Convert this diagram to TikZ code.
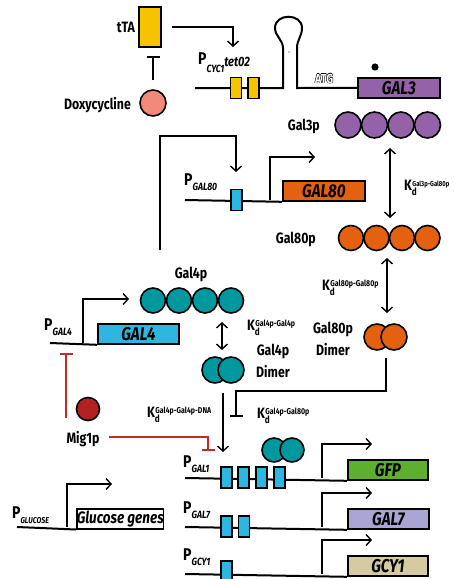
\documentclass[tikz,border=0pt]{standalone}
\usepackage{fontspec}
\setmainfont{Fira Sans}[FakeStretch=0.82]
\usetikzlibrary{arrows.meta}
\definecolor{cyellow}{HTML}{F5C400}
\definecolor{cdoxy}{HTML}{F28A7C}
\definecolor{cgalthree}{HTML}{9462A8}
\definecolor{cgaleighty}{HTML}{E4610F}
\definecolor{cteal}{HTML}{00989F}
\definecolor{csite}{HTML}{2DB7E0}
\definecolor{cmig}{HTML}{B32222}
\definecolor{cred}{HTML}{C8282A}
\definecolor{cgfp}{HTML}{5DAF2E}
\definecolor{cgalseven}{HTML}{A9A6D4}
\definecolor{cgcy}{HTML}{D6CBA0}
\newcommand{\promo}[2][10.5]{P\raisebox{-5pt}{\fontsize{#1}{#1}\selectfont\itshape #2}}
\newcommand{\kdlab}[2][8.5]{K\rlap{\raisebox{-5pt}{\fontsize{10}{10}\selectfont d}}\kern0.5pt\raisebox{4pt}{\fontsize{#1}{#1}\selectfont #2}}
\newcommand{\outlined}[1]{\makebox[0pt][l]{\kern-0.5pt\textcolor{black}{#1}}\makebox[0pt][l]{\kern0.5pt\textcolor{black}{#1}}\makebox[0pt][l]{\raisebox{0.5pt}{\textcolor{black}{#1}}}\makebox[0pt][l]{\raisebox{-0.5pt}{\textcolor{black}{#1}}}\textcolor{white}{#1}}
\begin{document}
\begin{tikzpicture}[x=1pt,y=-1pt,
  every node/.style={inner sep=0pt, font=\bfseries},
  lbl/.style={font=\bfseries\fontsize{15}{15}\selectfont},
  plab/.style={font=\bfseries\fontsize{17}{17}\selectfont, anchor=base west},
  dna/.style={line width=2pt},
  ln/.style={line width=1.8pt},
  arr/.style={ln, -{Straight Barb[length=5pt,width=11pt,line width=1.4pt]}},
  dbl/.style={ln, {Straight Barb[length=5pt,width=11pt,line width=1.4pt]}-{Straight Barb[length=5pt,width=11pt,line width=1.4pt]}},
  inh/.style={ln, -{Bar[width=13pt,line width=2.2pt]}},
  gene/.style={draw, line width=1.8pt, minimum height=20pt, font=\bfseries\itshape\fontsize{18.5}{18.5}\selectfont, anchor=north west},
  site/.style={draw, line width=1.5pt, minimum width=11pt, minimum height=21pt, fill=csite},
  prot/.style={draw, circle, line width=1.6pt, minimum size=26pt},
]
\useasboundingbox (0,0) rectangle (454,579);

% ---- tTA / doxycycline
\node[draw, line width=1.6pt, fill=cyellow, minimum width=22pt, minimum height=40pt] (tta) at (150,27) {};
\node[lbl, anchor=base east] (ttalab) at (135,32) {tTA};
\node[prot, fill=cdoxy] (doxy) at (153,103) {};
\node[lbl, anchor=base east] (doxylab) at (131,109) {Doxycycline};
\coordinate (tbar) at (153,56);
\draw[inh, shorten <=9pt] (doxy.north) -- (tbar);
\coordinate (cyctip) at (233,47);
\draw[arr, shorten <=10pt] (tta.east) -| (cyctip);

% ---- P_CYC1 tet02 / GAL3
\node[gene, fill=cgalthree, minimum width=82pt] (gal3) at (357,77) {GAL3};
\draw[dna] (195,88) -- (283,88) -- (283,48)
  .. controls (283,40) and (275,36) .. (275,28)
  .. controls (275,13) and (302,13) .. (302,28)
  .. controls (302,36) and (297,40) .. (297,48) -- (297,88) -- (gal3.west);
\node[site, fill=cyellow] (y1) at (236,88) {};
\node[site, fill=cyellow] (y2) at (253.5,88) {};
\fill (289,52) circle (0.7);
\fill (375,67) circle (3.6);
\node[font=\bfseries\fontsize{13}{13}\selectfont, anchor=base west] (atg) at (315,83) {\outlined{ATG}};
\node[plab] (pcyc) at (198,64) {P\raisebox{-8pt}{\fontsize{10.5}{10.5}\selectfont\itshape CYC1}\raisebox{-2pt}{\fontsize{13.5}{13.5}\selectfont\itshape tet02}};

% ---- Gal3p
\foreach \i/\x in {1/348,2/374.5,3/401,4/427.5}
  \node[prot, fill=cgalthree] (gthree\i) at (\x,125) {};
\node[lbl, anchor=base east] (gal3plab) at (320,130) {Gal3p};
\coordinate (ka1) at (390,148);
\coordinate (ka2) at (390,218);
\draw[dbl] (ka1) -- (ka2);
\node[lbl, anchor=base west] (kdone) at (404,190) {\kdlab[7.2]{Gal3p-Gal80p}};

% ---- Gal80p
\foreach \i/\x in {1/351,2/376.5,3/402,4/427.5}
  \node[prot, fill=cgaleighty, minimum size=25pt] (geighty\i) at (\x,238) {};
\node[lbl, anchor=base east] (gal80plab) at (316,243) {Gal80p};
\coordinate (kb1) at (387,258);
\coordinate (kb2) at (387,313);
\draw[dbl] (kb1) -- (kb2);
\node[lbl, anchor=base west] (kdtwo) at (322,290) {\kdlab{Gal80p-Gal80p}};
\node[prot, fill=cgaleighty] (deightya) at (377,337) {};
\node[prot, fill=cgaleighty] (deightyb) at (394,337) {};
\node[lbl, anchor=base] (d80l1) at (333,333) {Gal80p};
\node[lbl, anchor=base] (d80l2) at (333,355) {Dimer};
\coordinate (inhc) at (236,417);
\draw[inh] (386,358) |- (236,391) -- (inhc);
\node[lbl, anchor=base west] (kdfive) at (257,418) {\kdlab{Gal4p-Gal80p}};

% ---- P_GAL80 / GAL80
\node[gene, fill=cgaleighty, minimum width=82pt] (gal80) at (282,180) {GAL80};
\draw[dna] (185,200) -- (gal80.south west);
\node[site] (s80) at (236.5,200) {};
\draw[arr] (270,200) -- (270,157) -- (315,157);
\node[plab] (p80) at (184,185) {\promo{GAL80}};
\coordinate (fb0) at (160,250);
\coordinate (fbtip) at (236,172);
\draw[arr] (fb0) -- (160,136) -| (fbtip);

% ---- Gal4p
\foreach \i/\x in {1/153,2/179,3/205,4/231}
  \node[prot, fill=cteal, minimum size=25pt] (gfour\i) at (\x,300.5) {};
\node[lbl, anchor=base] (gal4plab) at (191,278) {Gal4p};
\node[gene, fill=csite, minimum width=81pt] (gal4) at (97,323) {GAL4};
\draw[dna] (50,343) -- (gal4.south west);
\draw[arr] (83,343) -- (83,299) -- (129,299);
\node[plab] (p4) at (44,330) {\promo{GAL4}};

\coordinate (kc1) at (222,322);
\coordinate (kc2) at (222,350);
\draw[dbl] (kc1) -- (kc2);
\node[lbl, anchor=base west] (kdthree) at (247,330) {\kdlab{Gal4p-Gal4p}};
\node[prot, fill=cteal] (dfoura) at (215,370) {};
\node[prot, fill=cteal] (dfourb) at (231,370) {};
\node[lbl, anchor=base] (d4l1) at (273,355) {Gal4p};
\node[lbl, anchor=base] (d4l2) at (273,377) {Dimer};
\coordinate (g1tip) at (223,452);
\draw[arr] (223,393) -- (g1tip);
\node[lbl, anchor=base west] (kdfour) at (147,417) {\kdlab{Gal4p-Gal4p-DNA}};

% ---- Mig1p
\node[prot, fill=cmig, minimum size=23pt] (mig) at (88,409) {};
\node[lbl, anchor=base] (miglab) at (83,443) {Mig1p};
\draw[inh, cred, line width=1.6pt] (66,418) -- (66,353);
\draw[inh, cred, line width=1.6pt] (109,437) -| (208,451);

% ---- P_GAL1 / GFP
\node[gene, fill=cgfp, minimum width=80pt] (gfp) at (347,459) {GFP};
\draw[dna] (185,478) -- (gfp.south west);
\foreach \i/\x in {1/226.5,2/243.5,3/261.5,4/279.5}
  \node[site] (sone\i) at (\x,477.5) {};
\draw[arr] (322,478) -- (322,444) -- (372,444);
\node[prot, fill=cteal, minimum size=24pt] (bda) at (274,450) {};
\node[prot, fill=cteal, minimum size=24pt] (bdb) at (292,450) {};
\node[plab] (p1) at (183,467) {\promo{GAL1}};

% ---- P_GAL7 / GAL7
\node[gene, fill=cgalseven, minimum width=81pt] (gal7) at (347,508) {GAL7};
\draw[dna] (185,527) -- (gal7.south west);
\node[site] (sseven1) at (226.5,526.5) {};
\node[site] (sseven2) at (244,526.5) {};
\draw[arr] (322,527) -- (322,493) -- (372,493);
\node[plab] (p7) at (183,513) {\promo{GAL7}};

% ---- P_GCY1 / GCY1
\node[gene, fill=cgcy, minimum width=80pt] (gcy) at (347,555) {GCY1};
\draw[dna] (185,574) -- (gcy.south west);
\node[site] (sgcy) at (226.5,571.5) {};
\draw[arr] (322,574) -- (322,540) -- (372,540);
\node[plab] (pg) at (183,560) {\promo{GCY1}};

% ---- P_GLUCOSE / Glucose genes
\node[gene, fill=white, line width=1.5pt, minimum width=86pt, font=\bfseries\itshape\fontsize{16.5}{16.5}\selectfont] (glu) at (76,508) {Glucose genes};
\draw[dna] (17,527) -- (glu.south west);
\draw[arr] (67,527) -- (67,484) -- (112,484);
\node[plab] (pglu) at (12,518) {\promo[8.5]{GLUCOSE}};
\end{tikzpicture}
\end{document}
